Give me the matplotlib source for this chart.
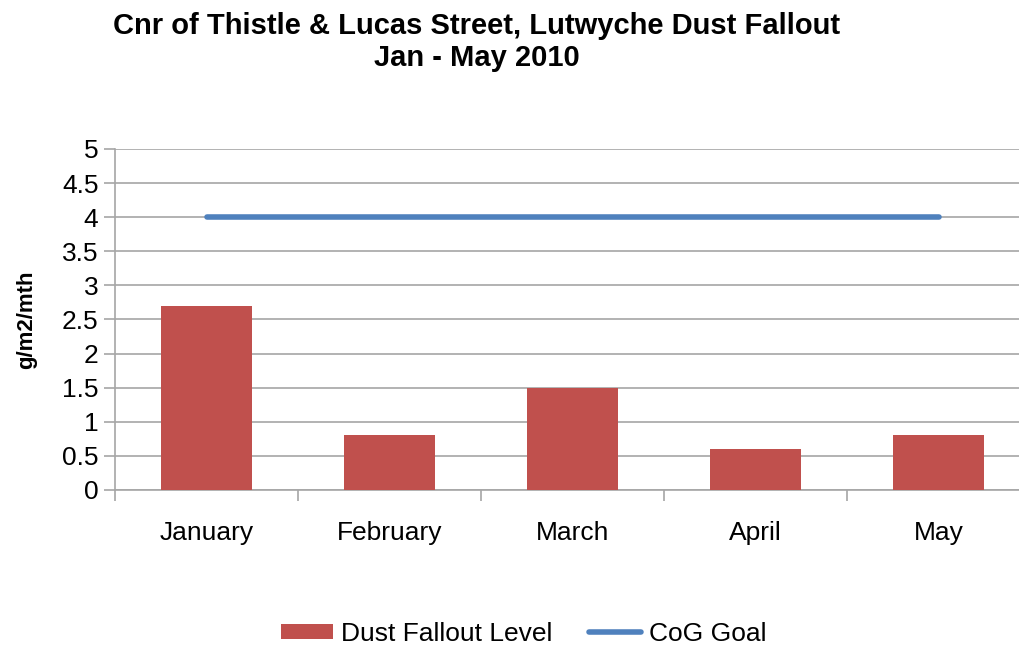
import numpy as np
import matplotlib.pyplot as plt

months = ['January', 'February', 'March', 'April', 'May']
dust_level = [2.7, 0.8, 1.5, 0.6, 0.8]
cog_goal = [4, 4, 4, 4, 4]

plt.rcParams['font.family'] = ['Liberation Sans', 'DejaVu Sans']

fig = plt.figure(figsize=(10.19, 6.5), dpi=100)
ax = fig.add_axes([0.1129, 0.2462, 0.8980, 0.5246])

x = np.arange(len(months))
bars = ax.bar(x, dust_level, width=0.5, color='#C0504D', label='Dust Fallout Level', zorder=3)
line, = ax.plot(x, cog_goal, color='#4F81BD', linewidth=4, solid_capstyle='round',
                label='CoG Goal', zorder=4)

ax.set_xlim(-0.5, len(months) - 0.5)
ax.set_ylim(0, 5)
ax.set_yticks(np.arange(0, 5.01, 0.5))
ax.set_yticklabels(['0', '0.5', '1', '1.5', '2', '2.5', '3', '3.5', '4', '4.5', '5'])
ax.yaxis.grid(True, color='#A6A6A6', linewidth=1.2, zorder=0)

ax.set_xticks(x)
ax.set_xticklabels(months)
ax.set_xticks(np.arange(-0.5, len(months), 1), minor=True)
ax.tick_params(axis='x', which='major', length=0, pad=22, labelsize=19)
ax.tick_params(axis='x', which='minor', length=8, color='#A6A6A6', width=1.2)
ax.tick_params(axis='y', length=8, color='#A6A6A6', width=1.2, labelsize=19, pad=4)

for side in ['top', 'right']:
    ax.spines[side].set_visible(False)
for side in ['left', 'bottom']:
    ax.spines[side].set_color('#A6A6A6')
    ax.spines[side].set_linewidth(1.2)

ax.set_ylabel('g/m2/mth', fontsize=16, fontweight='bold', labelpad=18)

fig.text(0.468, 0.935, 'Cnr of Thistle & Lucas Street, Lutwyche Dust Fallout\nJan - May 2010',
         ha='center', va='center', fontsize=21, fontweight='bold', linespacing=1.2)

fig.legend([bars, line], ['Dust Fallout Level', 'CoG Goal'], loc='center',
           bbox_to_anchor=(0.514, 0.025), ncol=2, frameon=False,
           fontsize=19, handlelength=1.95, handleheight=0.52, columnspacing=1.4,
           handletextpad=0.3)

fig.savefig('out.png', dpi=100)
